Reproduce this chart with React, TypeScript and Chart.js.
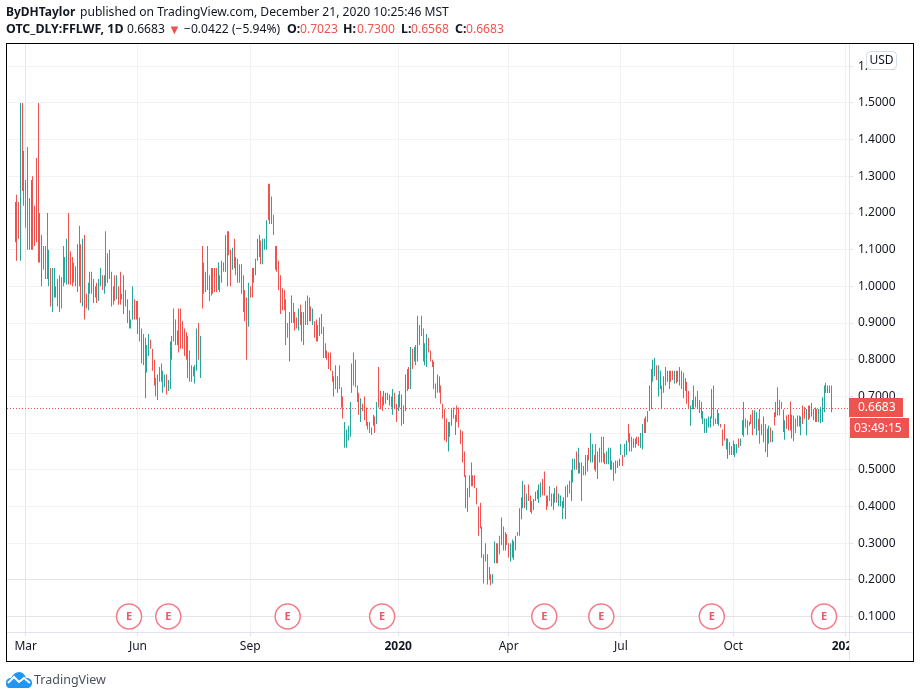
import React, { useEffect, useRef } from "react";
import { Chart, registerables } from "chart.js";

Chart.register(...registerables);

const highs = [
1.23,1.25,1.23,1.50,1.50,1.37,1.29,1.38,1.24,1.29,
1.30,1.22,1.35,1.50,1.20,1.14,1.11,1.11,1.20,1.10,
1.05,1.05,1.05,1.00,1.02,1.03,1.025,1.11,1.08,1.13,
1.20,1.095,1.08,1.065,1.055,1.115,1.165,1.115,1.13,1.14,
.98,1.01,1.04,1.04,1.02,1.00,1.01,1.02,1.05,1.03,
1.03,1.15,1.09,1.10,1.04,1.00,1.03,1.03,1.00,1.04,
.98,1.03,.99,.965,.935,.91,1.0,.965,.96,.96,
.915,.885,.87,.86,.84,.87,.855,.83,.80,.75,
.76,.78,.79,.77,.76,.76,.745,.85,.865,.94,
.91,.88,.94,.94,.905,.885,.875,.865,.825,.785,
.78,.785,.885,.90,.865,1.11,1.065,1.04,1.11,1.03,
1.05,1.05,1.05,1.05,1.065,1.03,1.07,1.065,1.14,1.15,
1.15,1.10,1.105,1.13,1.08,1.075,1.06,1.06,1.03,.99,
.97,1.01,1.0,1.05,1.05,1.075,1.13,1.14,1.125,1.13,
1.13,1.18,1.28,1.28,1.245,1.195,1.11,1.11,1.07,1.03,
.995,.99,.965,.90,.93,.975,.955,.93,.915,.94,
.95,.93,.93,.96,.975,.97,.945,.94,.905,.91,
.895,.915,.925,.89,.845,.825,.82,.82,.77,.755,
.785,.755,.785,.725,.70,.63,.61,.62,.685,.79,
.82,.80,.73,.71,.695,.68,.70,.67,.63,.63,
.615,.65,.645,.685,.78,.715,.70,.715,.71,
.71,.705,.70,.72,.71,.68,.705,.715,.705,
.675,.76,.775,.78,.835,.83,.835,.84,.92,.895,
.92,.885,.845,.87,.86,.825,.80,.795,.735,.76,
.755,.73,.68,.665,.64,.63,.63,.665,.67,.65,
.675,.67,.61,.605,.55,.485,.45,.485,.52,
.485,.485,.45,.40,.41,.345,.27,.30,.27,.235,
.215,.215,.305,.30,.30,.32,.37,.345,.33,.325,
.30,.30,.31,.305,.32,.33,.395,.425,.47,.46,
.435,.46,.43,.415,.42,.44,.445,.46,.465,.475,
.495,.43,.43,.455,.435,.435,.45,.455,.435,.43,
.415,.425,.455,.46,.47,.50,.53,.53,.55,.56,
.52,.52,.51,.54,.54,.56,.60,.57,.54,.57,
.55,.56,.59,.59,.545,.55,.56,.56,.525,.52,
.525,.525,.53,.57,.54,.57,.58,.625,.60,.59,
.585,.585,.59,.59,.60,.625,.64,.645,.66,.73,.775,
.80,.805,.785,.785,.77,.73,.755,.78,.77,.77,
.77,.77,.77,.77,.77,.78,.77,.765,.75,.74,
.715,.675,.69,.73,.70,.715,.69,.685,.66,.64,
.64,.645,.645,.72,.73,.64,.665,.655,.625,.61,.625,
.585,.585,.575,.565,.58,.57,.57,.585,.585,.635,
.685,.64,.635,.63,.651,.662,.662,.657,.639,.666,
.624,.645,.625,.612,.621,.615,.607,.657,.685,.725,
.691,.685,.664,.635,.648,.651,.686,.651,.648,.64,
.648,.648,.645,.675,.671,.666,.675,.675,.682,.666,.67,
.666,.666,.671,.698,.73,.737,.73,.73,.73,
];

const lows = [
1.12,1.07,1.13,1.07,1.26,1.22,1.16,1.10,1.10,1.10,
1.10,1.11,1.12,1.065,1.065,1.00,1.045,1.02,1.02,1.00,
.945,.93,.97,.97,.945,.93,.94,1.00,1.01,1.005,
1.005,1.005,1.00,1.01,1.00,.985,1.00,.955,.945,.91,
.94,.935,.98,.98,.955,.97,.955,.96,1.00,.99,
.98,1.00,1.01,1.02,.945,.95,.96,.965,.95,.95,
.965,.925,.945,.90,.885,.885,.91,.91,.91,.87,
.85,.79,.785,.695,.765,.81,.83,.77,.73,.70,
.69,.74,.74,.71,.725,.705,.715,.72,.80,.85,
.84,.84,.82,.83,.83,.81,.80,.75,.74,.74,
.755,.735,.77,.80,.75,.94,.98,.985,.99,.96,
.975,.98,.985,.985,.99,.985,1.01,1.04,1.04,1.00,
1.085,1.00,1.045,1.05,1.03,1.01,1.01,.98,.93,.905,
.80,.89,.97,.97,1.01,1.03,1.07,1.08,1.06,1.06,
1.10,1.10,1.18,1.17,1.17,1.14,1.045,1.04,.99,.925,
.935,.935,.84,.86,.795,.90,.90,.88,.885,.88,
.895,.85,.84,.895,.895,.905,.905,.895,.86,.85,
.85,.865,.87,.805,.805,.80,.775,.77,.74,.70,
.72,.71,.72,.67,.64,.56,.56,.58,.59,.71,
.73,.725,.685,.65,.63,.66,.635,.62,.61,.60,
.595,.62,.60,.625,.67,.665,.66,.675,.68,
.69,.675,.67,.65,.665,.63,.66,.67,.62,
.625,.66,.715,.72,.72,.775,.795,.785,.795,.84,
.865,.795,.785,.78,.82,.795,.78,.72,.695,.71,
.71,.68,.64,.58,.575,.55,.59,.62,.64,.595,
.63,.615,.57,.52,.48,.395,.385,.425,.455,
.455,.45,.405,.32,.34,.26,.19,.25,.187,.20,
.185,.19,.245,.245,.245,.27,.295,.28,.28,.295,
.26,.25,.26,.255,.28,.32,.32,.365,.395,.395,
.39,.415,.385,.38,.39,.415,.42,.41,.425,.43,
.43,.39,.40,.415,.40,.39,.41,.41,.40,.40,
.365,.395,.365,.425,.435,.415,.465,.50,.50,.49,
.49,.415,.485,.485,.495,.525,.52,.52,.50,.495,
.475,.52,.52,.52,.515,.515,.515,.50,.50,.47,
.49,.505,.51,.54,.51,.535,.54,.575,.55,.55,
.56,.56,.57,.565,.56,.555,.60,.60,.63,.66,.665,
.74,.755,.745,.70,.72,.665,.71,.73,.74,.72,
.74,.745,.735,.735,.74,.73,.72,.695,.715,.68,
.665,.62,.665,.665,.67,.665,.655,.64,.625,.60,
.60,.615,.615,.64,.62,.625,.625,.62,.615,.565,.58,
.555,.53,.54,.54,.54,.535,.545,.56,.565,.595,
.59,.615,.595,.62,.625,.594,.612,.594,.607,.571,
.594,.575,.548,.535,.571,.575,.575,.621,.644,.648,
.648,.666,.603,.582,.612,.607,.607,.585,.578,.60,
.618,.618,.594,.625,.639,.594,.636,.639,.645,.635,.63,
.63,.63,.627,.63,.657,.709,.709,.709,.6568,
];

const opens = [
1.13,1.24,1.22,1.08,1.48,1.36,1.28,1.37,1.23,1.11,
1.29,1.21,1.34,1.48,1.19,1.01,1.10,1.10,1.19,1.01,
1.04,.94,.98,.99,1.01,1.02,1.02,1.10,1.02,1.01,
1.19,1.09,1.07,1.06,1.05,1.11,1.16,1.11,.95,1.13,
.97,.94,1.03,1.03,.96,.99,1.00,.97,1.01,1.02,
.99,1.14,1.02,1.09,1.03,.99,1.02,.97,.99,1.03,
.97,.93,.98,.91,.89,.89,.92,.96,.95,.88,
.91,.88,.86,.85,.77,.82,.85,.82,.79,.74,
.70,.77,.78,.72,.73,.75,.72,.73,.81,.93,
.85,.85,.93,.93,.90,.88,.87,.86,.82,.78,
.775,.74,.78,.89,.76,1.10,1.06,1.03,1.10,1.02,
.98,1.04,1.04,1.04,1.00,1.02,1.02,1.045,1.05,1.14,
1.14,1.09,1.05,1.12,1.07,1.02,1.02,1.05,1.02,.98,
.96,.90,.99,1.04,1.02,1.04,1.08,1.09,1.12,1.07,
1.105,1.11,1.27,1.27,1.24,1.19,1.10,1.10,1.06,1.02,
.99,.98,.96,.89,.80,.91,.95,.92,.91,.89,
.94,.86,.92,.90,.97,.96,.94,.90,.90,.90,
.89,.87,.92,.88,.84,.82,.81,.81,.76,.71,
.78,.72,.78,.72,.69,.57,.57,.59,.60,.72,
.81,.79,.72,.70,.64,.675,.69,.66,.625,.62,
.61,.625,.64,.63,.77,.71,.69,.68,.685,
.705,.68,.695,.66,.705,.675,.665,.71,.70,
.63,.67,.77,.775,.73,.825,.80,.83,.80,.845,
.91,.88,.79,.79,.855,.82,.795,.79,.70,.72,
.75,.725,.675,.66,.635,.56,.595,.625,.665,.645,
.67,.665,.605,.60,.545,.48,.39,.43,.515,
.48,.48,.445,.395,.405,.34,.195,.255,.19,.23,
.21,.195,.25,.295,.25,.315,.30,.34,.325,.32,
.295,.255,.265,.26,.285,.328,.325,.37,.40,.455,
.395,.455,.425,.385,.395,.42,.44,.415,.43,.47,
.49,.425,.405,.45,.43,.395,.415,.45,.405,.405,
.37,.40,.37,.455,.465,.42,.47,.505,.545,.495,
.515,.42,.505,.49,.50,.555,.525,.525,.535,.565,
.48,.525,.585,.585,.54,.52,.52,.505,.52,.475,
.495,.52,.515,.545,.535,.54,.545,.62,.595,.585,
.565,.58,.585,.585,.565,.56,.635,.605,.655,.665,.67,
.745,.76,.78,.705,.725,.725,.715,.775,.745,.725,
.765,.765,.74,.765,.765,.735,.765,.76,.72,.735,
.71,.625,.67,.725,.675,.71,.66,.645,.63,.605,
.605,.62,.62,.645,.725,.635,.63,.625,.623,.605,.62,
.56,.535,.545,.545,.575,.54,.55,.58,.57,.60,
.595,.635,.60,.628,.648,.658,.617,.60,.635,.66,
.60,.58,.62,.54,.575,.61,.58,.652,.65,.72,
.686,.68,.61,.59,.643,.646,.68,.646,.643,.635,
.622,.644,.60,.67,.667,.60,.67,.67,.677,.64,.635,
.66,.635,.632,.635,.662,.732,.713,.713,.7023,
];

const closes = [
1.22,1.08,1.14,1.49,1.27,1.23,1.17,1.11,1.11,1.28,
1.11,1.12,1.13,1.08,1.08,1.13,1.06,1.03,1.03,1.09,
.95,1.04,1.04,.98,.95,.94,.95,1.01,1.07,1.12,
1.01,1.01,1.01,1.02,1.01,.99,1.01,.96,1.12,.92,
.95,1.00,.99,.99,1.01,.98,.96,1.01,1.04,1.00,
1.02,1.01,1.08,1.03,.95,.96,.97,1.02,.96,.96,
.975,1.02,.95,.96,.93,.905,.99,.92,.92,.95,
.86,.80,.79,.70,.83,.86,.835,.78,.74,.71,
.75,.75,.75,.76,.75,.71,.74,.84,.86,.86,
.90,.87,.83,.84,.84,.82,.81,.76,.75,.75,
.76,.78,.88,.81,.86,.95,.99,.99,1.00,.97,
1.04,.99,.99,.99,1.06,.99,1.06,1.06,1.13,1.01,
1.09,1.01,1.10,1.06,1.04,1.07,1.05,.99,.94,.91,
.81,1.00,.98,.98,1.04,1.07,1.12,1.13,1.07,1.12,
1.125,1.17,1.19,1.18,1.18,1.15,1.05,1.05,1.00,.93,
.94,.94,.85,.87,.92,.97,.91,.89,.89,.93,
.90,.92,.85,.95,.90,.91,.91,.93,.87,.86,
.86,.91,.88,.81,.81,.81,.78,.78,.75,.75,
.73,.75,.73,.68,.65,.62,.60,.61,.68,.78,
.74,.73,.69,.66,.69,.665,.64,.63,.615,.61,
.60,.645,.61,.68,.68,.67,.67,.71,.705,
.695,.70,.675,.71,.67,.635,.70,.675,.63,
.67,.75,.72,.73,.83,.78,.83,.79,.91,.89,
.87,.80,.84,.86,.83,.80,.785,.73,.73,.75,
.72,.69,.65,.59,.58,.62,.625,.66,.645,.60,
.635,.62,.575,.525,.49,.40,.445,.48,.46,
.46,.455,.41,.325,.345,.265,.265,.295,.265,.205,
.19,.21,.30,.25,.295,.275,.365,.285,.285,.30,
.265,.295,.305,.30,.315,.322,.39,.42,.465,.40,
.43,.42,.39,.41,.415,.435,.425,.455,.46,.435,
.435,.395,.425,.42,.405,.43,.445,.415,.43,.425,
.41,.42,.45,.43,.44,.495,.525,.525,.505,.555,
.495,.515,.49,.535,.535,.53,.595,.565,.505,.50,
.545,.555,.525,.525,.52,.545,.555,.555,.505,.515,
.52,.51,.525,.565,.515,.565,.575,.58,.555,.555,
.58,.565,.575,.57,.595,.62,.605,.64,.635,.725,.77,
.795,.80,.75,.78,.765,.67,.75,.735,.765,.765,
.745,.75,.765,.74,.745,.775,.725,.70,.745,.685,
.67,.67,.685,.67,.695,.67,.685,.68,.655,.635,
.635,.64,.64,.715,.625,.63,.66,.65,.617,.57,.585,
.58,.58,.57,.56,.545,.565,.565,.565,.58,.63,
.68,.62,.63,.622,.63,.60,.657,.65,.612,.576,
.62,.64,.553,.607,.616,.58,.602,.626,.68,.653,
.653,.67,.66,.63,.617,.612,.612,.59,.583,.605,
.644,.622,.64,.63,.643,.66,.64,.644,.65,.66,.665,
.635,.66,.667,.693,.725,.713,.726,.726,.6683,
];

const timeTickIndex = [6, 69, 132, 215, 277, 340, 403, 466];
const timeTickLabels = ["Mar", "Jun", "Sep", "2020", "Apr", "Jul", "Oct", "2021"];
const priceTicks = [0.1, 0.2, 0.3, 0.4, 0.5, 0.6, 0.7, 0.8, 0.9, 1.0, 1.1, 1.2, 1.3, 1.4, 1.5, 1.6];
const earningsIndex = [64, 86, 153, 206, 297, 329, 391, 454];
const earningsPrice = 0.1;
const lastPrice = 0.6683;
const countdown = "03:49:15";
const UP = "#26a69a";
const DOWN = "#ef5350";
const FONT = '"Noto Sans"';
const X_MIN = -4.49;
const X_MAX = 468;

const barColors = closes.map((c, i) => (c >= opens[i] ? UP : DOWN));

const tvDecor = {
  id: "tvDecor",
  beforeDatasetsDraw(chart: any) {
    // snap marks to whole pixels, like the crisp 1px candles of the reference
    chart.data.datasets.forEach((ds: any, i: number) => {
      if (ds.type === "scatter") return;
      const meta = chart.getDatasetMeta(i);
      meta.data.forEach((el: any) => {
        if (ds.type === "line") el.y = Math.floor(el.y) + 0.5;
        else el.x = Math.floor(el.x) + 0.5;
      });
    });
  },
  afterDraw(chart: any) {
    const { ctx, scales } = chart;
    const y = scales.y;
    ctx.save();
    // cover what overruns the time axis on the right
    ctx.fillStyle = "#fff";
    ctx.fillRect(849, 633, 64, 27);
    // axis lines
    ctx.strokeStyle = "#e0e3eb";
    ctx.lineWidth = 1;
    ctx.beginPath();
    ctx.moveTo(7, 632.5);
    ctx.lineTo(913, 632.5);
    ctx.moveTo(849.5, 44);
    ctx.lineTo(849.5, 661);
    ctx.stroke();
    // frame
    ctx.strokeStyle = "#000";
    ctx.strokeRect(6.5, 43.5, 907, 618);
    // E markers' letters
    ctx.font = `bold 11px ${FONT}`;
    ctx.fillStyle = "#f0566a";
    ctx.textAlign = "center";
    ctx.textBaseline = "middle";
    earningsIndex.forEach((ix) => {
      ctx.fillText("E", scales.x.getPixelForValue(ix), y.getPixelForValue(earningsPrice));
    });
    // last price labels
    const py = y.getPixelForValue(lastPrice);
    ctx.fillStyle = DOWN;
    ctx.fillRect(849, Math.round(py) - 10, 54, 19);
    ctx.fillRect(850, Math.round(py) + 10, 59, 20);
    ctx.fillStyle = "#fff";
    ctx.font = `12px ${FONT}`;
    ctx.textAlign = "left";
    ctx.fillText(lastPrice.toFixed(4), 858, Math.round(py) - 0.5);
    ctx.fillText(countdown, 854, Math.round(py) + 20.5);
    // currency badge
    ctx.fillStyle = "#fff";
    ctx.strokeStyle = "#d6dce6";
    ctx.beginPath();
    ctx.roundRect(866.5, 51.5, 30, 18, 4);
    ctx.fill();
    ctx.stroke();
    ctx.fillStyle = "#131722";
    ctx.textAlign = "center";
    ctx.fillText("USD", 881.5, 60.5);
    ctx.restore();
  },
};

export default function App() {
  const ref = useRef<HTMLCanvasElement>(null);
  useEffect(() => {
    if (!ref.current) return;
    const chart = new Chart(ref.current, {
      type: "bar",
      data: {
        datasets: [
          {
            type: "line",
            data: [{ x: X_MIN, y: lastPrice }, { x: X_MAX, y: lastPrice }],
            borderColor: DOWN,
            borderWidth: 1,
            borderDash: [1, 2],
            pointRadius: 0,
            order: 3,
          },
          {
            type: "scatter",
            data: earningsIndex.map((x) => ({ x, y: earningsPrice })),
            backgroundColor: "#ffffff",
            borderColor: "#f47c8a",
            borderWidth: 1.5,
            pointRadius: 12.5,
            order: 0,
          },
          {
            label: "wick",
            data: highs.map((h, i) => ({ x: i, y: [lows[i], h] })),
            backgroundColor: barColors,
            barThickness: 1,
            inflateAmount: 0,
            grouped: false,
            order: 2,
          },
          {
            label: "body",
            data: opens.map((o, i) => ({ x: i, y: [Math.min(o, closes[i]), Math.max(o, closes[i])] })),
            backgroundColor: barColors,
            barThickness: 1,
            inflateAmount: 0,
            grouped: false,
            order: 1,
          },
        ],
      } as any,
      options: {
        responsive: false,
        animation: false,
        devicePixelRatio: 1,
        events: [],
        layout: { autoPadding: false, padding: { left: 7, top: 44, right: 7, bottom: 37 } },
        plugins: { legend: { display: false }, tooltip: { enabled: false }, title: { display: false } },
        scales: {
          x: {
            type: "linear",
            min: X_MIN,
            max: X_MAX,
            offset: false,
            afterBuildTicks: (s: any) => {
              s.ticks = timeTickIndex.map((value) => ({ value }));
            },
            afterFit: (s: any) => {
              s.height = 29;
              s.paddingLeft = 0;
              s.paddingRight = 0;
            },
            grid: {
              offset: false,
              color: (c: any) => (c.tick && c.tick.value === timeTickIndex[0] ? "#e4e5e8" : "#f1f2f4"),
              tickColor: "#e0e3eb",
              tickLength: 4,
            },
            border: { display: false },
            ticks: {
              autoSkip: false,
              maxRotation: 0,
              padding: 3,
              color: "#131722",
              font: (c: any) => ({
                family: FONT,
                size: 12,
                weight: c.index === 3 || c.index === 7 ? "bold" : "normal",
              }),
              callback: (v: any) => timeTickLabels[timeTickIndex.indexOf(v)] ?? "",
            },
          },
          y: {
            type: "linear",
            position: "right",
            min: 0.0577,
            max: 1.6608,
            afterBuildTicks: (s: any) => {
              s.ticks = priceTicks.map((value) => ({ value }));
            },
            afterFit: (s: any) => {
              s.width = 64;
              s.paddingTop = 0;
              s.paddingBottom = 0;
            },
            grid: {
              color: (c: any) => (c.tick && c.tick.value < 0.25 ? "#e4e5e8" : "#f1f2f4"),
              tickColor: "#e0e3eb",
              tickLength: 4,
            },
            border: { display: false },
            ticks: {
              padding: 5,
              color: "#131722",
              font: { family: FONT, size: 12 },
              callback: (v: any) => Number(v).toFixed(4),
            },
          },
        },
      } as any,
      plugins: [tvDecor],
    });
    return () => chart.destroy();
  }, []);

  const red = { color: DOWN };
  const bold = { fontWeight: "bold", fontSize: 12.4 };
  const piece = (left: number, text: string, extra: any = {}) => (
    <span style={{ position: "absolute", left, top: 0, ...extra }}>{text}</span>
  );
  const lineStyle: any = { position: "absolute", left: 6, height: 18, width: 700, font: `12.1px/18px ${FONT}`, color: "#131722", whiteSpace: "nowrap" };
  return (
    <div style={{ position: "fixed", left: 0, top: 0, width: 920, height: 698, background: "#fff", overflow: "hidden" }}>
      <canvas ref={ref} width={920} height={698} style={{ position: "absolute", left: 0, top: 0 }} />
      <div style={{ ...lineStyle, top: 3 }}>
        {piece(0, "ByDHTaylor", { ...bold, fontSize: 12 })}
        {piece(74, "published on TradingView.com, December 21, 2020 10:25:46 MST")}
      </div>
      <div style={{ ...lineStyle, top: 20 }}>
        {piece(0, "OTC_DLY:FFLWF, 1D", bold)}
        {piece(121, "0.6683")}
        {piece(162, "▼", { ...red, fontSize: 13 })}
        {piece(178, "−0.0422 (−5.94%)")}
        {piece(281, "O:", bold)}
        {piece(294, "0.7023", red)}
        {piece(337, "H:", bold)}
        {piece(351, "0.7300", red)}
        {piece(395, "L:", bold)}
        {piece(405, "0.6568", red)}
        {piece(449, "C:", bold)}
        {piece(460, "0.6683", red)}
      </div>
      <svg width="28" height="16" viewBox="0 0 28 16" style={{ position: "absolute", left: 5, top: 672 }}>
        <path
          d="M1 11 C1 7 4 6 6 6 C8 2 11 0 14 0 C18 0 20 3 21 6 C25 6 27 8 27 11 C27 14 25 16 22 16 L5 16 C2 16 1 14 1 11 Z"
          fill="#2196f3"
        />
        <path d="M3 11 L9 5 L14 10 L19 6 L25 11" fill="none" stroke="#fff" strokeWidth="2" />
      </svg>
      <div style={{ position: "absolute", left: 34, top: 671, font: `12.5px/18px ${FONT}`, color: "#4c525e" }}>TradingView</div>
    </div>
  );
}
